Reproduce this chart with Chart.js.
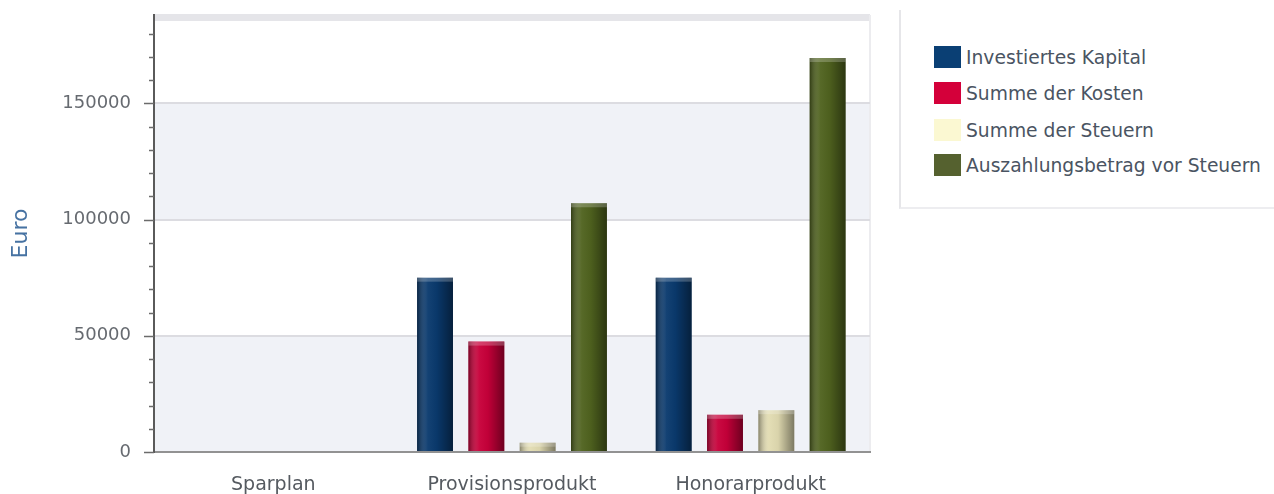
<!DOCTYPE html>
<html>
<head>
<meta charset="utf-8">
<script src="https://cdn.jsdelivr.net/npm/chart.js@4.4.1/dist/chart.umd.min.js"></script>
<style>
  body { margin: 0; background: #fff; width: 1274px; height: 494px; overflow: hidden; position: relative; font-family: "DejaVu Sans", sans-serif; }
  #wrap { position: absolute; left: 0; top: 0; width: 880px; height: 494px; }
  #legend { position: absolute; left: 899px; top: 10px; width: 375px; height: 197px; border-left: 2px solid #e6e6e9; border-bottom: 2px solid #ededf0; }
  .item { position: absolute; left: 33px; height: 22px; display: flex; align-items: center; font-size: 18.7px; color: #4a5462; white-space: nowrap; }
  .sw { width: 27px; height: 22px; margin-right: 5px; }
</style>
</head>
<body>
<div id="wrap"><canvas id="chart"></canvas></div>
<div id="legend"></div>
<script>
// chart data
const categories = ['Sparplan', 'Provisionsprodukt', 'Honorarprodukt'];
const seriesNames = ['Investiertes Kapital', 'Summe der Kosten', 'Summe der Steuern', 'Auszahlungsbetrag vor Steuern'];
const investiert = [0, 75000, 75000];
const kosten = [0, 47500, 16000];
const steuern = [0, 4000, 18000];
const auszahlung = [0, 107000, 169500];
const yLabels = [0, 50000, 100000, 150000];
// small tick marks every 10000 up to 180000
const yMinor = [0, 10000, 20000, 30000, 40000, 50000, 60000, 70000, 80000, 90000,
  100000, 110000, 120000, 130000, 140000, 150000, 160000, 170000, 180000];

const barColors = ['#0a3a6e', '#c8003a', '#e2dcb2', '#50631f'];
const legendColors = ['#0a3f74', '#d4003a', '#fbf8d2', '#55612f'];

// alternating bands + top strip behind the bars
const bands = {
  id: 'bands',
  beforeDraw(chart) {
    const { ctx, chartArea: a, scales: { y } } = chart;
    ctx.save();
    ctx.fillStyle = '#fff';
    ctx.fillRect(a.left, a.top, a.right - a.left, a.bottom - a.top);
    ctx.fillStyle = '#f0f2f7';
    [[0, 50000], [100000, 150000]].forEach(([lo, hi]) => {
      const y1 = y.getPixelForValue(hi), y0 = y.getPixelForValue(lo);
      ctx.fillRect(a.left, y1, a.right - a.left, y0 - y1);
    });
    ctx.fillStyle = '#e5e5e9';
    ctx.fillRect(a.left, a.top - 1, a.right - a.left, 7);
    ctx.fillStyle = '#ececef';
    ctx.fillRect(a.right - 1, a.top, 2, a.bottom - a.top);
    ctx.restore();
  }
};

// shading on the bars, and the tick marks on the value axis
const shading = {
  id: 'shading',
  afterDatasetsDraw(chart) {
    const ctx = chart.ctx;
    ctx.save();
    chart.data.datasets.forEach((ds, i) => {
      chart.getDatasetMeta(i).data.forEach(bar => {
        const { x, y, base, width } = bar.getProps(['x', 'y', 'base', 'width'], true);
        if (Math.abs(base - y) < 1) return;
        const l = x - width / 2;
        const g = ctx.createLinearGradient(l, 0, l + width, 0);
        g.addColorStop(0, 'rgba(0,0,0,0.4)');
        g.addColorStop(0.3, 'rgba(255,255,255,0.04)');
        g.addColorStop(0.55, 'rgba(0,0,0,0.04)');
        g.addColorStop(1, 'rgba(0,0,0,0.45)');
        ctx.fillStyle = g;
        ctx.fillRect(l, y, width, base - y);
        ctx.fillStyle = 'rgba(255,255,255,0.22)';
        ctx.fillRect(l, y, width, Math.min(4, base - y));
      });
    });
    const ys = chart.scales.y;
    ctx.strokeStyle = '#6b6b6b';
    ctx.lineWidth = 1.5;
    ys.ticks.forEach(t => {
      const py = Math.round(ys.getPixelForValue(t.value)) + 0.5;
      const len = yLabels.includes(t.value) ? 10 : 5;
      ctx.beginPath();
      ctx.moveTo(ys.right - len, py);
      ctx.lineTo(ys.right, py);
      ctx.stroke();
    });
    ctx.restore();
  }
};

const values = [investiert, kosten, steuern, auszahlung];

new Chart(document.getElementById('chart'), {
  type: 'bar',
  data: {
    labels: categories,
    datasets: seriesNames.map((name, i) => ({
      label: name,
      data: values[i],
      backgroundColor: barColors[i],
      categoryPercentage: 0.86,
      barPercentage: 0.7
    }))
  },
  options: {
    responsive: true,
    maintainAspectRatio: false,
    animation: false,
    layout: { padding: { top: 15, right: 10, left: 0, bottom: 0 } },
    plugins: { legend: { display: false }, tooltip: { enabled: false } },
    scales: {
      x: {
        grid: { display: false, drawTicks: false },
        border: { color: '#929292', width: 2 },
        ticks: { color: '#555a60', font: { family: 'DejaVu Sans', size: 19 }, padding: 22, maxRotation: 0 },
        afterFit(s) { s.height = 42; s.paddingLeft = 0; s.paddingRight = 0; }
      },
      y: {
        min: 0,
        max: 188000,
        afterBuildTicks(s) { s.ticks = yMinor.map(v => ({ value: v })); },
        grid: {
          drawTicks: false,
          lineWidth: 2,
          color: c => (c.tick && c.tick.value !== 0 && yLabels.includes(c.tick.value)) ? '#dcdce1' : 'rgba(0,0,0,0)'
        },
        border: { color: '#5a5a5a', width: 2 },
        ticks: {
          autoSkip: false,
          color: '#666a70',
          font: { family: 'DejaVu Sans', size: 18 },
          padding: 23,
          callback: v => yLabels.includes(v) ? String(v) : ''
        },
        title: {
          display: true,
          text: 'Euro',
          color: '#4672a2',
          font: { family: 'DejaVu Sans', size: 22 },
          padding: { top: 8, bottom: 0 }
        },
        afterFit(s) { s.width = 154; s.paddingTop = 0; s.paddingBottom = 0; }
      }
    }
  },
  plugins: [bands, shading]
});

// legend box on the right
const legend = document.getElementById('legend');
const rowTops = [36, 72, 109, 144];
seriesNames.forEach((name, i) => {
  const row = document.createElement('div');
  row.className = 'item';
  row.style.top = rowTops[i] + 'px';
  row.innerHTML = `<span class="sw" style="background:${legendColors[i]}"></span>${name}`;
  legend.appendChild(row);
});
</script>
</body>
</html>
